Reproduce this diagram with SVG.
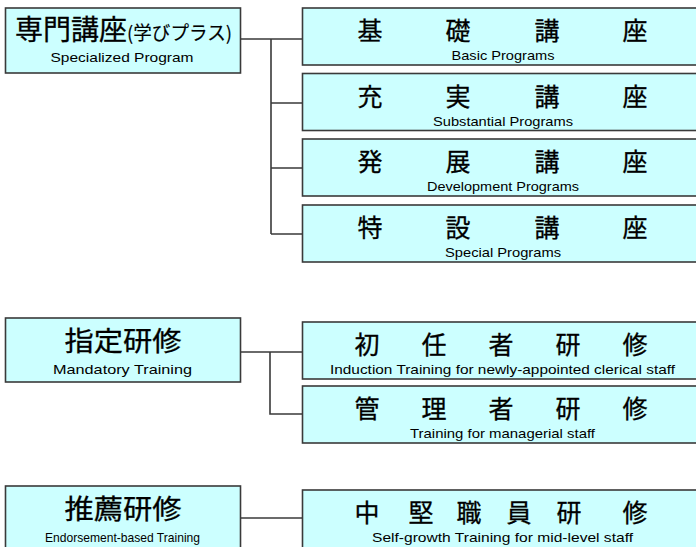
<svg xmlns="http://www.w3.org/2000/svg" width="696" height="547" viewBox="0 0 696 547">
<style>
.box{fill:#CCFFFF;stroke:#3a3a3a;stroke-width:1.6}
.jp{font-family:"Noto Sans CJK JP","Noto Sans CJK SC",sans-serif;fill:#000;stroke:#000;stroke-width:0.3}
.big{font-size:27px;text-anchor:middle}
.mid{font-size:25px;text-anchor:middle}
.en{font-family:"Liberation Sans","DejaVu Sans",sans-serif;font-size:13.5px;fill:#000;text-anchor:middle}
.conn{fill:none;stroke:#3a3a3a;stroke-width:1.6}
</style>
<rect width="696" height="547" fill="#fff"/>
<g id="connectors">
<path class="conn" d="M240.5 39H302.5M271 39V234M271 103H302.5M271 168H302.5M271 234H302.5"/>
<path class="conn" d="M240.5 352H302.5M270 352V414H302.5"/>
<path class="conn" d="M240.5 518H302.5"/>
</g>
<g id="senmon">
<rect class="box" x="5.5" y="8" width="235" height="65"/>
<text class="jp" x="15" y="40"><tspan font-size="28" textLength="112" lengthAdjust="spacingAndGlyphs">専門講座</tspan><tspan font-size="19" stroke-width="0.15" textLength="105" lengthAdjust="spacingAndGlyphs">(学びプラス)</tspan></text>
<text class="en" x="122" y="62" textLength="143" lengthAdjust="spacingAndGlyphs">Specialized Program</text>
</g>
<g id="kiso">
<rect class="box" x="302.5" y="8" width="401" height="57"/>
<text class="jp mid" x="370 458 547 635" y="40">基礎講座</text>
<text class="en" x="503" y="60" textLength="103" lengthAdjust="spacingAndGlyphs">Basic Programs</text>
</g>
<g id="jujitsu">
<rect class="box" x="302.5" y="73.5" width="401" height="57"/>
<text class="jp mid" x="370 458 547 635" y="105.5">充実講座</text>
<text class="en" x="503" y="125.5" textLength="140" lengthAdjust="spacingAndGlyphs">Substantial Programs</text>
</g>
<g id="hatten">
<rect class="box" x="302.5" y="139" width="401" height="57"/>
<text class="jp mid" x="370 458 547 635" y="171">発展講座</text>
<text class="en" x="503" y="191" textLength="152" lengthAdjust="spacingAndGlyphs">Development Programs</text>
</g>
<g id="tokusetsu">
<rect class="box" x="302.5" y="205" width="401" height="57"/>
<text class="jp mid" x="370 458 547 635" y="237">特設講座</text>
<text class="en" x="503" y="257" textLength="116" lengthAdjust="spacingAndGlyphs">Special Programs</text>
</g>
<g id="shitei">
<rect class="box" x="5.5" y="318" width="235" height="64"/>
<text class="jp big" x="123" y="351" textLength="117" lengthAdjust="spacingAndGlyphs">指定研修</text>
<text class="en" x="122.5" y="374" textLength="139" lengthAdjust="spacingAndGlyphs">Mandatory Training</text>
</g>
<g id="shoninsha">
<rect class="box" x="302.5" y="322" width="401" height="57"/>
<text class="jp mid" x="367 434 501 568 635" y="354">初任者研修</text>
<text class="en" x="502.5" y="374" textLength="345" lengthAdjust="spacingAndGlyphs">Induction Training for newly-appointed clerical staff</text>
</g>
<g id="kanrisha">
<rect class="box" x="302.5" y="386" width="401" height="57"/>
<text class="jp mid" x="367 434 501 568 635" y="418">管理者研修</text>
<text class="en" x="502.5" y="438" textLength="185" lengthAdjust="spacingAndGlyphs">Training for managerial staff</text>
</g>
<g id="suisen">
<rect class="box" x="5.5" y="486" width="235" height="70"/>
<text class="jp big" x="123" y="519" textLength="117" lengthAdjust="spacingAndGlyphs">推薦研修</text>
<text class="en" x="122.5" y="542" textLength="155" lengthAdjust="spacingAndGlyphs">Endorsement-based Training</text>
</g>
<g id="chuken">
<rect class="box" x="302.5" y="490" width="401" height="66"/>
<text class="jp mid" x="367 421 469 519 569 635" y="522">中堅職員研修</text>
<text class="en" x="502.5" y="542" textLength="261" lengthAdjust="spacingAndGlyphs">Self-growth Training for mid-level staff</text>
</g>
</svg>
